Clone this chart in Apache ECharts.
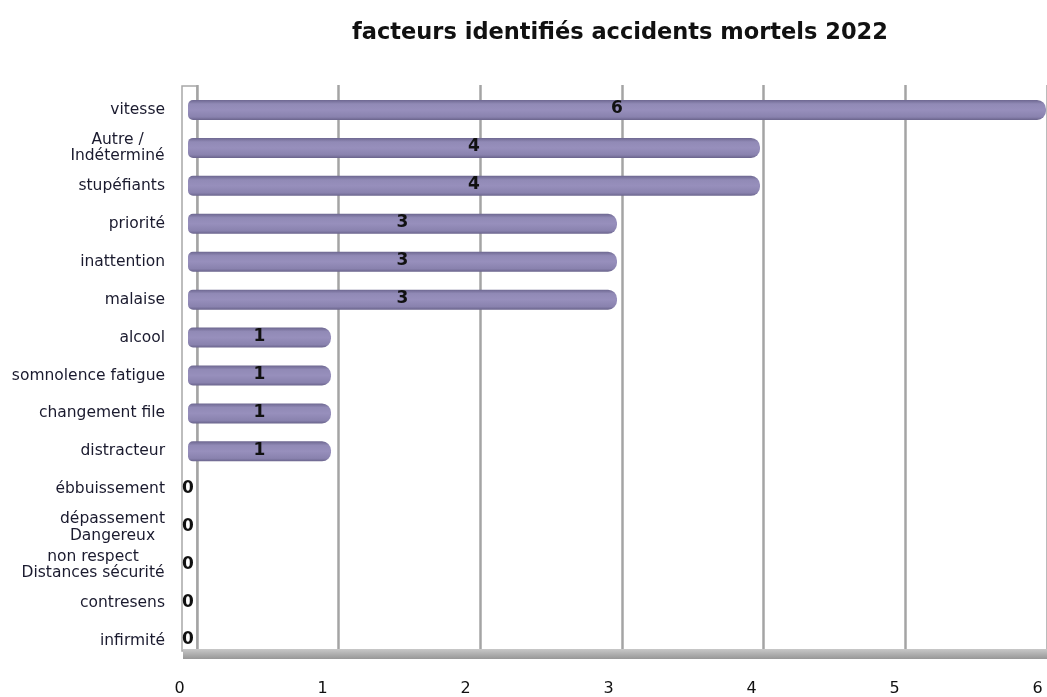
<!DOCTYPE html>
<html><head><meta charset="utf-8">
<script src="https://cdn.jsdelivr.net/npm/echarts@6/dist/echarts.min.js"></script>
<style>html,body{margin:0;padding:0;background:#fff}#c{width:1047px;height:697px}</style>
</head><body><div id="c"></div>
<script>
const titleText = 'facteurs identifiés accidents mortels 2022';
const categories = ['vitesse','Autre /\nIndéterminé','stupéfiants','priorité','inattention','malaise','alcool','somnolence fatigue','changement file','distracteur','ébbuissement','dépassement\nDangereux','non respect\nDistances sécurité','contresens','infirmité'];
const values = [6,4,4,3,3,3,1,1,1,1,0,0,0,0,0];
const xTicks = ['0','1','2','3','4','5','6'];

const LABEL_FONT = 'DejaVu Sans';
const LABEL_SIZE = 15.5;
const LABEL_LH = 16.5;
const ctx = document.createElement('canvas').getContext('2d');
ctx.font = LABEL_SIZE + 'px "' + LABEL_FONT + '"';
const rich = {};
const blockKey = {};
categories.forEach((c, i) => {
  if (c.indexOf('\n') >= 0) {
    const w = Math.ceil(Math.max(...c.split('\n').map(s => ctx.measureText(s).width)));
    const k = 'b' + i;
    blockKey[c] = k;
    rich[k] = {width: w, align: 'center', fontSize: LABEL_SIZE, lineHeight: LABEL_LH, fontFamily: LABEL_FONT, color: '#1a1a2e'};
  }
});

const chart = echarts.init(document.getElementById('c'));
chart.setOption({
  backgroundColor:'#fff',
  animation:false,
  title:{text:titleText,left:347,top:17,textStyle:{fontFamily:'DejaVu Sans',fontWeight:'bold',fontSize:22.5,color:'#111'}},
  grid:[
    {left:182,width:15,top:86,bottom:46,show:true,borderWidth:1.5,borderColor:'#a8a8a8',backgroundColor:'#fff'},
    {left:183,right:0,top:649,bottom:38,show:true,borderWidth:0,backgroundColor:new echarts.graphic.LinearGradient(0,0,0,1,[{offset:0,color:'#c8c8c8'},{offset:1,color:'#979797'}])},
    {left:197,right:-6,top:85,bottom:48},
    {left:188,right:1,top:91,bottom:37}
  ],
  xAxis:[
    {gridIndex:0,show:false,min:0,max:1},
    {gridIndex:1,show:false,min:0,max:1},
    {gridIndex:2,type:'value',min:0,max:6,interval:1,axisLine:{show:false},axisTick:{show:false},axisLabel:{show:false},splitLine:{show:true,lineStyle:{color:'#a4a4a4',width:2.5}}},
    {gridIndex:3,type:'value',min:0,max:6,interval:1,axisLine:{show:false},axisTick:{show:false},splitLine:{show:false},
      axisLabel:{margin:21,padding:[0,17,0,0],fontFamily:'DejaVu Sans',fontSize:16,color:'#111',formatter:(v)=>xTicks[v]}}
  ],
  yAxis:[
    {gridIndex:0,show:false,type:'category',data:['a']},
    {gridIndex:1,show:false,type:'category',data:['a']},
    {gridIndex:2,show:false,type:'category',data:categories},
    {gridIndex:3,type:'category',data:categories,inverse:true,axisLine:{show:false},axisTick:{show:false},
      axisLabel:{margin:23,fontFamily:LABEL_FONT,fontSize:LABEL_SIZE,lineHeight:LABEL_LH,color:'#1a1a2e',
        formatter:(v)=>{ const k=blockKey[v]; if(k){return v.split('\n').map(s=>'{'+k+'|'+s+'}').join('\n');} return v; },
        rich:rich}}
  ],
  series:[{
    type:'bar',xAxisIndex:3,yAxisIndex:3,data:values,barWidth:20,z:3,
    itemStyle:{borderRadius:[5,9,9,5],color:new echarts.graphic.LinearGradient(0,0,0,1,[{offset:0,color:'#6d6790'},{offset:0.2,color:'#918ab6'},{offset:0.5,color:'#978fbc'},{offset:0.85,color:'#8982ae'},{offset:1,color:'#6a648c'}])},
    label:{show:true,position:'inside',offset:[0,-1],fontFamily:'DejaVu Sans',fontWeight:'bold',fontSize:17,color:'#111'}
  }]
});
</script></body></html>
